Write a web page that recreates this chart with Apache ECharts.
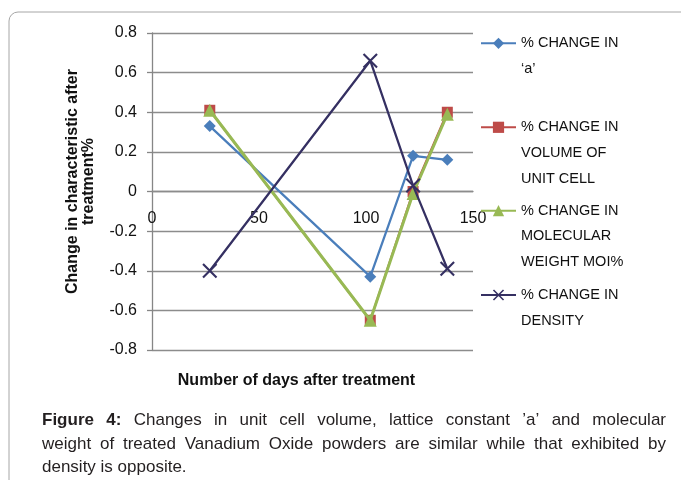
<!DOCTYPE html>
<html>
<head>
<meta charset="utf-8">
<script src="https://cdn.jsdelivr.net/npm/echarts@6/dist/echarts.min.js"></script>
<style>
html,body{margin:0;padding:0;background:#fff;}
#chart{width:681px;height:480px;}
</style>
</head>
<body>
<div id="chart"></div>
<script>
// ---- data ----
const days = [27, 102, 122, 138];
const changeA = [0.33, -0.43, 0.18, 0.16];
const changeVolume = [0.41, -0.65, 0.0, 0.40];
const changeMolWeight = [0.41, -0.65, -0.01, 0.39];
const changeDensity = [-0.40, 0.66, 0.03, -0.39];
const seriesNames = [
  '% CHANGE IN\n\u2018a\u2019',
  '% CHANGE IN\nVOLUME OF\nUNIT CELL',
  '% CHANGE IN\nMOLECULAR\nWEIGHT MOI%',
  '% CHANGE IN\nDENSITY'
];
const xTicks = [0, 50, 100, 150];
const yTicks = [-0.8, -0.6, -0.4, -0.2, 0, 0.2, 0.4, 0.6, 0.8];
const xAxisTitle = 'Number of days after treatment';
const yAxisTitle = 'Change in characteristic after\ntreatment%';
const captionLine1 = [['Figure', true], ['4:', true], ['Changes', false], ['in', false], ['unit', false], ['cell', false], ['volume,', false], ['lattice', false], ['constant', false], ['\u2019a\u2019', false], ['and', false], ['molecular', false]];
const captionLine2 = 'weight of treated Vanadium Oxide powders are similar while that exhibited by';
const captionLine3 = 'density is opposite.';

// ---- styles ----
const colors = ['#4A7EBB', '#BE4B48', '#98B954', '#353062'];
const FONT = "'Liberation Sans', Arial, sans-serif";
const gridGray = '#8c8c8c';

function pairs(xs, ys) { return xs.map((x, i) => [x, ys[i]]); }

const xSymbol = 'path://M0,1L1,0L10,9L9,10ZM9,0L10,1L1,10L0,9Z';

const seriesDefs = [
  { vals: changeA, symbol: 'diamond', size: 12, width: 2.25 },
  { vals: changeVolume, symbol: 'rect', size: 11, width: 2 },
  { vals: changeMolWeight, symbol: 'triangle', size: 13, width: 3 },
  { vals: changeDensity, symbol: xSymbol, size: 15, width: 2.25 }
];

const series = seriesDefs.map((d, i) => ({
  name: seriesNames[i],
  type: 'line',
  data: pairs(days, d.vals),
  symbol: d.symbol,
  symbolSize: d.size,
  showSymbol: true,
  lineStyle: { color: colors[i], width: d.width },
  itemStyle: { color: colors[i] },
  emphasis: { disabled: true },
  z: 2 + i,
  animation: false
}));

// legends: one per item, first text line aligned with icon
const L = 25.7;
const iconY = [43.3, 127.3, 210.7, 295];
const legends = seriesNames.map((nm, i) => {
  const n = nm.split('\n').length;
  return {
    data: [nm],
    orient: 'vertical',
    left: 480,
    top: iconY[i] - (2 * n - 1) * L / 2,
    padding: 0,
    itemWidth: 35,
    itemHeight: 14,
    selectedMode: false,
    formatter: name => '\n'.repeat(n - 1) + name,
    textStyle: {
      fontFamily: FONT, fontSize: 14.5, color: '#111',
      lineHeight: L,
      backgroundColor: 'rgba(255,255,255,0)'
    }
  };
});

// caption (justified lines)
const ctx = document.createElement('canvas').getContext('2d');
function w(text, bold) {
  ctx.font = (bold ? 'bold ' : '') + '17px ' + FONT;
  return ctx.measureText(text).width;
}
const capX0 = 42, capX1 = 666;
function justify(words, y) {
  const widths = words.map(([t, b]) => w(t, b));
  const total = widths.reduce((a, b) => a + b, 0);
  const gap = (capX1 - capX0 - total) / (words.length - 1);
  let x = capX0;
  return words.map(([t, b], i) => {
    const el = {
      type: 'text', left: x, top: y,
      style: { text: t, font: (b ? 'bold ' : '') + '17px ' + FONT, fill: '#231f20' }
    };
    x += widths[i] + gap;
    return el;
  });
}
const capY = [412, 436, 459];
const graphics = [
  { type: 'rect', shape: { x: 9, y: 12, width: 700, height: 500, r: 9 },
    style: { fill: 'none', stroke: '#a6a6a6', lineWidth: 1 }, silent: true, z: -1 }
].concat(justify(captionLine1, capY[0]))
 .concat(justify(captionLine2.split(' ').map(t => [t, false]), capY[1]))
 .concat([{ type: 'text', left: capX0, top: capY[2],
   style: { text: captionLine3, font: '17px ' + FONT, fill: '#231f20' } }]);

// grid geometry; x axis sits on the y = 0 line
const gridTop = 33, gridBottom = 130, chartH = 480;
const plotH = chartH - gridTop - gridBottom;
const zeroOffset = -plotH * (0 - yTicks[0]) / (yTicks[yTicks.length - 1] - yTicks[0]);

const chart = echarts.init(document.getElementById('chart'), null, { renderer: 'canvas' });
chart.setOption({
  backgroundColor: '#fff',
  animation: false,
  grid: { left: 152, right: 208, top: gridTop, bottom: gridBottom, containLabel: false, outerBoundsMode: 'none' },
  xAxis: {
    type: 'value',
    position: 'bottom',
    offset: zeroOffset,
    min: xTicks[0], max: xTicks[xTicks.length - 1], interval: 50,
    axisLine: { show: true, onZero: false, lineStyle: { color: gridGray, width: 1.3 } },
    axisTick: { show: false },
    splitLine: { show: false },
    axisLabel: { margin: 19, fontFamily: FONT, fontSize: 16, color: '#111' },
    name: xAxisTitle,
    nameLocation: 'middle',
    nameGap: 181,
    nameTextStyle: { fontFamily: FONT, fontSize: 16, fontWeight: 'bold', color: '#111', padding: [0, 32, 0, 0] }
  },
  yAxis: {
    type: 'value',
    min: yTicks[0], max: yTicks[yTicks.length - 1], interval: 0.2,
    axisLine: { show: true, onZero: false, lineStyle: { color: '#868686', width: 1.3 } },
    axisTick: { show: true, length: 5, lineStyle: { color: '#868686', width: 1.3 } },
    splitLine: { show: true, lineStyle: { color: gridGray, width: 1.3 } },
    axisLabel: { margin: 15, fontFamily: FONT, fontSize: 16, color: '#111',
      formatter: v => String(Math.round(v * 10) / 10) },
    name: yAxisTitle,
    nameLocation: 'middle',
    nameGap: 55,
    nameTextStyle: { fontFamily: FONT, fontSize: 16, fontWeight: 'bold', color: '#111', lineHeight: 16.5, padding: [0, 0, 0, 20] }
  },
  legend: legends,
  series: series,
  graphic: graphics
});
</script>
</body>
</html>
